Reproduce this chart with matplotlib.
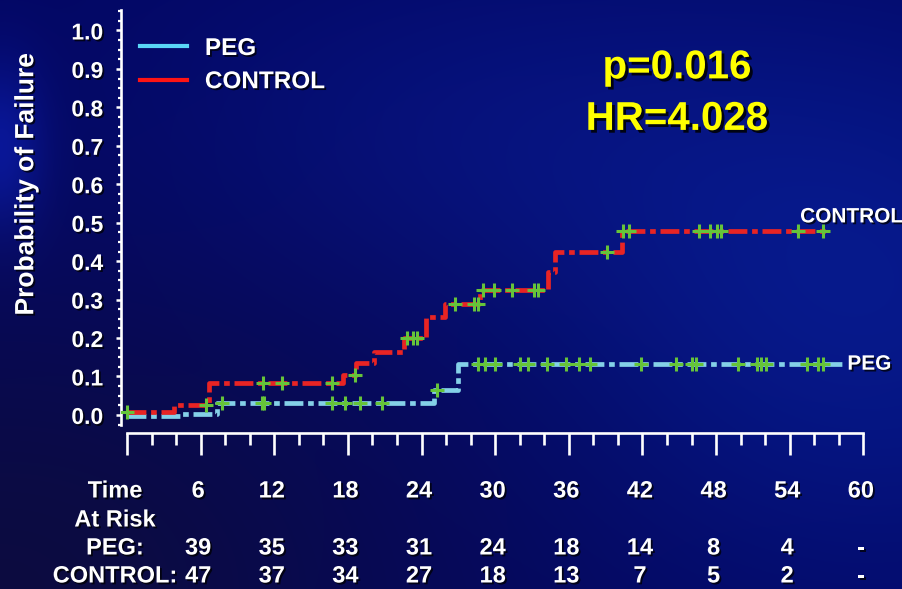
import numpy as np
import matplotlib
matplotlib.use("Agg")
import matplotlib.pyplot as plt
from matplotlib.lines import Line2D
from matplotlib.ticker import MultipleLocator, FixedLocator
from matplotlib.transforms import blended_transform_factory
import matplotlib.patheffects as pe

plt.rcParams["font.family"] = ["Liberation Sans", "DejaVu Sans"]
plt.rcParams["font.weight"] = "bold"

# ---- Kaplan-Meier step data (months, cumulative probability of failure) ----
ctrl_times = [0, 3.8, 6.7, 17.6, 18.7, 20.1, 22.6, 24.4, 25.9, 28.8, 34.3, 34.9, 40.3]
ctrl_prob = [0.008, 0.026, 0.082, 0.104, 0.135, 0.164, 0.199, 0.255, 0.289, 0.324, 0.371, 0.423, 0.479]
ctrl_end = 57.0
ctrl_censored = [0.0, 6.4, 11.1, 12.6, 16.7, 18.6, 22.8, 23.3, 23.6, 26.7, 28.3, 28.6,
                 29.0, 29.9, 31.4, 33.2, 33.5, 39.1, 40.4, 40.9, 46.6, 47.5, 48.1, 48.4,
                 54.7, 56.7]

peg_times = [0, 4.3, 7.3, 25.0, 27.0]
peg_prob = [-0.004, 0.003, 0.031, 0.065, 0.133]
peg_end = 58.5
peg_censored = [7.7, 11.0, 11.2, 16.7, 17.8, 19.0, 20.8, 25.3, 28.6, 29.2, 30.0, 32.0,
                32.7, 34.2, 35.8, 36.8, 37.7, 41.9, 44.7, 46.0, 46.4, 49.8, 51.3, 51.7,
                52.1, 55.4, 56.3, 56.7]

# ---- numbers at risk ----
risk_times = [6, 12, 18, 24, 30, 36, 42, 48, 54, 60]
peg_at_risk = ["39", "35", "33", "31", "24", "18", "14", "8", "4", "-"]
ctrl_at_risk = ["47", "37", "34", "27", "18", "13", "7", "5", "2", "-"]

p_text = "p=0.016"
hr_text = "HR=4.028"

W, H = 902, 589
fig = plt.figure(figsize=(W / 100, H / 100), dpi=100)

# ---- slide-style navy background ----
yy, xx = np.mgrid[0:H, 0:W].astype(float)


def blob(cx, cy, sx, sy):
    return np.exp(-(((xx - cx) / sx) ** 2 + ((yy - cy) / sy) ** 2) / 2)[..., None]


bg_img = np.ones((H, W, 3)) * np.array([0.012, 0.025, 0.39])
bg_img += blob(870, 300, 230, 200) * np.array([0.012, 0.07, 0.15])
bg_img += blob(470, 130, 240, 130) * np.array([0.01, 0.035, 0.08])
bg_img += blob(0, 150, 30, 60) * np.array([0.02, 0.06, 0.22])
bg_img *= 1 - 0.35 * blob(0, 589, 320, 220)
bg_img += blob(0, 589, 320, 220) * np.array([0.04, 0.03, 0.0])
bg_img = np.clip(bg_img, 0, 1)

bg = fig.add_axes([0, 0, 1, 1], zorder=-10)
bg.imshow(bg_img, aspect="auto", interpolation="bilinear")
bg.axis("off")

# ---- main axes ----
ax = fig.add_axes([121 / W, 156 / H, 746 / W, 422.5 / H])
ax.set_facecolor("none")
ax.set_xlim(-0.49, 60.3)
ax.set_ylim(-0.047, 1.052)

for s in ["top", "right"]:
    ax.spines[s].set_visible(False)
for s in ["left", "bottom"]:
    ax.spines[s].set_color("white")
    ax.spines[s].set_linewidth(1.9)
ax.spines["bottom"].set_bounds(0, 60)
ax.spines["left"].set_bounds(-0.025, 1.052)

ax.xaxis.set_major_locator(MultipleLocator(6))
ax.xaxis.set_minor_locator(MultipleLocator(2))
ax.tick_params(axis="x", which="major", direction="out", length=16, width=1.9,
               color="white", labelbottom=False)
ax.tick_params(axis="x", which="minor", direction="out", length=8.5, width=1.9,
               color="white")

yticks = np.round(np.arange(0, 1.01, 0.1), 1)
ax.yaxis.set_major_locator(FixedLocator(yticks))
ax.yaxis.set_minor_locator(MultipleLocator(0.025))
ax.set_yticklabels([f"{v:.1f}" for v in yticks])
ax.tick_params(axis="y", which="major", direction="out", length=3.8, width=1.8,
               color="white", labelcolor="white", labelsize=16.5, pad=9)
ax.tick_params(axis="y", which="minor", direction="out", length=2.2, width=1.6,
               color="white")

shadow = [pe.withSimplePatchShadow(offset=(1.3, -1.3), shadow_rgbFace="black", alpha=0.75)]
for lab in ax.get_yticklabels():
    lab.set_fontweight("bold")
    lab.set_path_effects(shadow)

ax.set_ylabel("Probability of Failure", color="white", fontsize=19, fontweight="bold")
ax.yaxis.label.set_va("center")
ax.yaxis.label.set_path_effects(shadow)
ax.yaxis.set_label_coords(-0.127, 0.589)

# ---- survival-type step curves ----
red = "#e82424"
cyan = "#84d0e8"
green = "#66c43a"
dash = [4.0, 1.0, 1.2, 1.0]


def step_value(times, probs, t):
    idx = np.searchsorted(times, t, side="right") - 1
    return np.asarray(probs)[idx]


ax.plot(peg_times + [peg_end], peg_prob + [peg_prob[-1]], drawstyle="steps-post",
        color=cyan, lw=3.4, dashes=dash, zorder=3, solid_capstyle="butt")
ax.plot(ctrl_times + [ctrl_end], ctrl_prob + [ctrl_prob[-1]], drawstyle="steps-post",
        color=red, lw=3.4, dashes=dash, zorder=4, solid_capstyle="butt")

ax.plot(peg_censored, step_value(peg_times, peg_prob, peg_censored), linestyle="none",
        marker="+", ms=10, mew=2.2, color=green, zorder=5)
ax.plot(ctrl_censored, step_value(ctrl_times, ctrl_prob, ctrl_censored), linestyle="none",
        marker="+", ms=10, mew=2.2, color=green, zorder=6)

# curve end labels
ax.text(54.85, 0.515, "CONTROL", color="white", fontsize=15, fontweight="bold",
        ha="left", va="center", path_effects=shadow, clip_on=False)
ax.text(58.7, 0.132, "PEG", color="white", fontsize=15, fontweight="bold",
        ha="left", va="center", path_effects=shadow, clip_on=False)

# statistics
ystat_shadow = [pe.withSimplePatchShadow(offset=(2, -2), shadow_rgbFace="black", alpha=0.85)]
ax.text(44.8, 0.904, p_text, color="#ffff00", fontsize=29, fontweight="bold",
        ha="center", va="center", path_effects=ystat_shadow)
ax.text(44.8, 0.770, hr_text, color="#ffff00", fontsize=29, fontweight="bold",
        ha="center", va="center", path_effects=ystat_shadow)

# legend
handles = [Line2D([], [], color="#5ad6f6", lw=3.0),
           Line2D([], [], color="#ff1414", lw=3.0)]
leg = ax.legend(handles, ["PEG", "CONTROL"], loc="upper left",
                bbox_to_anchor=(140 / W, 1 - 37 / H), bbox_transform=fig.transFigure,
                frameon=False, fontsize=17.5, handlelength=1.95, handletextpad=0.72,
                labelspacing=0.42, borderpad=0, borderaxespad=0)
for t in leg.get_texts():
    t.set_color("white")
    t.set_fontweight("bold")
    t.set_path_effects(shadow)

# ---- number-at-risk table under the axis ----
tr = blended_transform_factory(ax.transData, fig.transFigure)
rows = [("Time", [str(t) for t in risk_times], 491),
        ("At Risk", None, 520),
        ("PEG:", peg_at_risk, 548),
        ("CONTROL:", ctrl_at_risk, 576)]
label_x = (115 - 127) / 12.27
for name, vals, ypix in rows:
    yf = 1 - ypix / H
    ax.text(label_x, yf, name, transform=tr, color="white", fontsize=17,
            fontweight="bold", ha="center", va="center", path_effects=shadow,
            clip_on=False)
    if vals is None:
        continue
    for t, v in zip(risk_times, vals):
        ax.text(t - 0.2, yf, v, transform=tr, color="white", fontsize=17,
                fontweight="bold", ha="center", va="center", path_effects=shadow,
                clip_on=False)

fig.savefig("out.png", dpi=100)
